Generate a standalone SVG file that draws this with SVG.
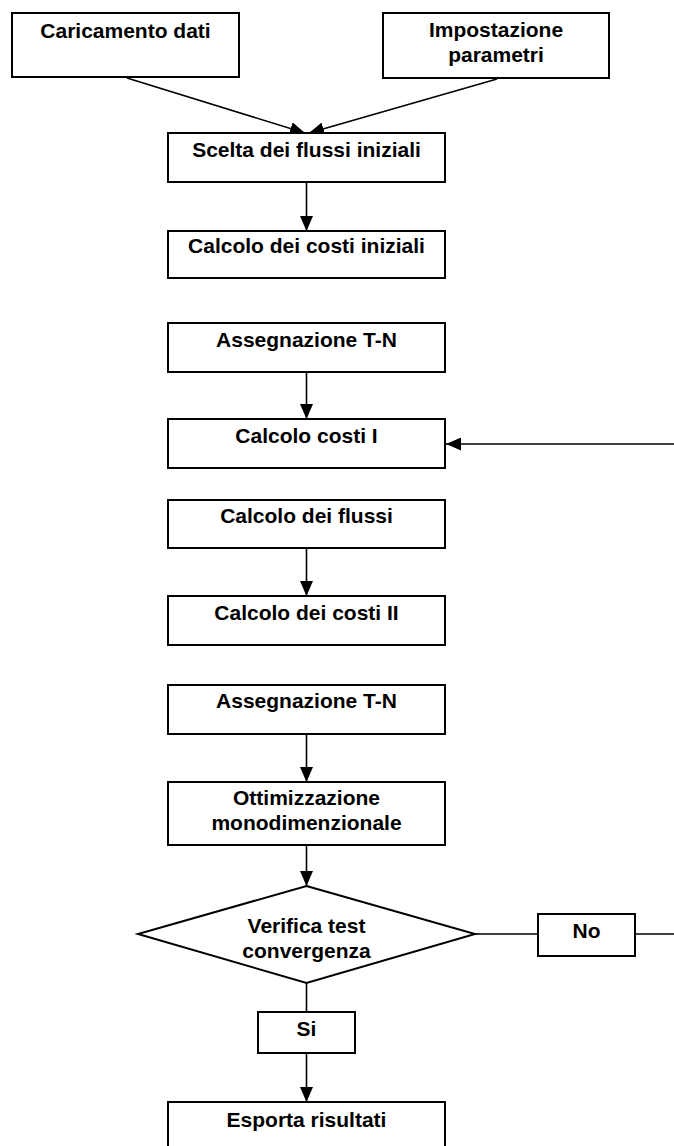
<svg xmlns="http://www.w3.org/2000/svg" width="674" height="1146" viewBox="0 0 674 1146">
<style>
.box{fill:#fff;stroke:#000;stroke-width:2}
.t{font-family:"Liberation Sans",Arial,sans-serif;font-weight:bold;font-size:21px;text-anchor:middle;fill:#000}
.c{fill:none;stroke:#000;stroke-width:1.6}
</style>
<defs>
<marker id="ah" markerUnits="userSpaceOnUse" markerWidth="15" markerHeight="13" viewBox="0 0 15 13" refX="15" refY="6.5" orient="auto">
<path d="M0,0 L15,6.5 L0,13 Z" fill="#000"/>
</marker>
</defs>
<rect width="674" height="1146" fill="#fff"/>
<g id="connectors">
<line class="c" x1="127" y1="78" x2="305" y2="133" marker-end="url(#ah)"/>
<line class="c" x1="497" y1="79" x2="309" y2="133" marker-end="url(#ah)"/>
<line class="c" x1="306.5" y1="182" x2="306.5" y2="231" marker-end="url(#ah)"/>
<line class="c" x1="306.5" y1="372" x2="306.5" y2="419" marker-end="url(#ah)"/>
<line class="c" x1="674" y1="444" x2="446" y2="444" marker-end="url(#ah)"/>
<line class="c" x1="306.5" y1="548" x2="306.5" y2="596" marker-end="url(#ah)"/>
<line class="c" x1="306.5" y1="734" x2="306.5" y2="782" marker-end="url(#ah)"/>
<line class="c" x1="306.5" y1="845" x2="306.5" y2="886" marker-end="url(#ah)"/>
<line class="c" x1="475" y1="934" x2="538" y2="934"/>
<line class="c" x1="635" y1="934" x2="674" y2="934"/>
<line class="c" x1="306.5" y1="983" x2="306.5" y2="1012"/>
<line class="c" x1="306.5" y1="1053" x2="306.5" y2="1102" marker-end="url(#ah)"/>
</g>
<g id="n_caricamento">
<rect class="box" x="12" y="13" width="227" height="64"/>
<text class="t" x="125.5" y="38">Caricamento dati</text>
</g>
<g id="n_impostazione">
<rect class="box" x="383" y="13" width="226" height="65"/>
<text class="t" x="496" y="37">Impostazione</text>
<text class="t" x="496" y="62">parametri</text>
</g>
<g id="n_scelta">
<rect class="box" x="168" y="133" width="277" height="49"/>
<text class="t" x="306.5" y="157">Scelta dei flussi iniziali</text>
</g>
<g id="n_costi_iniziali">
<rect class="box" x="168" y="231" width="277" height="47"/>
<text class="t" x="306.5" y="253">Calcolo dei costi iniziali</text>
</g>
<g id="n_assegnazione1">
<rect class="box" x="168" y="323" width="277" height="49"/>
<text class="t" x="306.5" y="347">Assegnazione T-N</text>
</g>
<g id="n_costi_I">
<rect class="box" x="168" y="419" width="277" height="49"/>
<text class="t" x="306.5" y="443">Calcolo costi I</text>
</g>
<g id="n_flussi">
<rect class="box" x="168" y="500" width="277" height="48"/>
<text class="t" x="306.5" y="523">Calcolo dei flussi</text>
</g>
<g id="n_costi_II">
<rect class="box" x="168" y="596" width="277" height="49"/>
<text class="t" x="306.5" y="620">Calcolo dei costi II</text>
</g>
<g id="n_assegnazione2">
<rect class="box" x="168" y="685" width="277" height="49"/>
<text class="t" x="306.5" y="708">Assegnazione T-N</text>
</g>
<g id="n_ottimizzazione">
<rect class="box" x="168" y="782" width="277" height="63"/>
<text class="t" x="306.5" y="805">Ottimizzazione</text>
<text class="t" x="306.5" y="830">monodimenzionale</text>
</g>
<g id="n_verifica">
<polygon class="box" points="306.5,886 475,934 306.5,983 138,934"/>
<text class="t" x="306.5" y="933">Verifica test</text>
<text class="t" x="306.5" y="958">convergenza</text>
</g>
<g id="n_no">
<rect class="box" x="538" y="914" width="97" height="42"/>
<text class="t" x="586.5" y="938">No</text>
</g>
<g id="n_si">
<rect class="box" x="258" y="1012" width="97" height="41"/>
<text class="t" x="306.5" y="1036">Si</text>
</g>
<g id="n_esporta">
<rect class="box" x="168" y="1102" width="277" height="48"/>
<text class="t" x="306.5" y="1127">Esporta risultati</text>
</g>
</svg>
